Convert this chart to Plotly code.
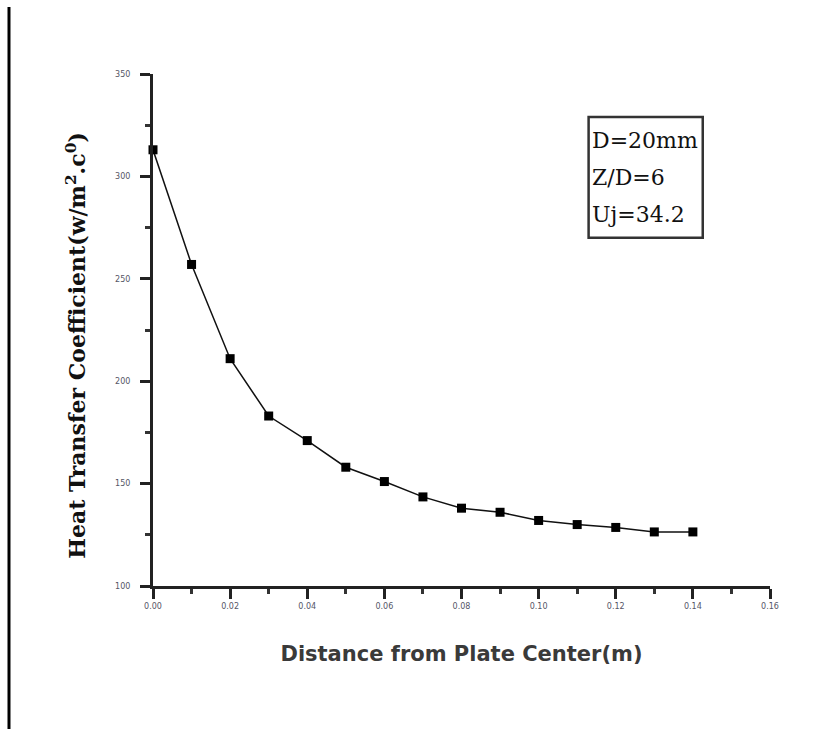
import plotly.graph_objects as go

# Radial distance from the plate centre (m) and local heat transfer coefficient
distance = [0.00, 0.01, 0.02, 0.03, 0.04, 0.05, 0.06, 0.07,
            0.08, 0.09, 0.10, 0.11, 0.12, 0.13, 0.14]
htc = [313, 257, 211, 183, 171, 158, 151, 143.5,
       138, 136, 132, 130, 128.6, 126.4, 126.4]

x_ticks = [0.00, 0.02, 0.04, 0.06, 0.08, 0.10, 0.12, 0.14, 0.16]
x_tick_text = ["0.00", "0.02", "0.04", "0.06", "0.08", "0.10", "0.12", "0.14", "0.16"]
y_ticks = [100, 150, 200, 250, 300, 350]
y_tick_text = ["100", "150", "200", "250", "300", "350"]

case_lines = ["D=20mm", "Z/D=6", "Uj=34.2"]

fig = go.Figure()
fig.add_trace(go.Scatter(
    x=distance, y=htc, mode="lines+markers",
    line=dict(color="#111111", width=1.5),
    marker=dict(symbol="square", size=9, color="#000000"),
    showlegend=False, cliponaxis=False,
))

axis_common = dict(
    showgrid=False, zeroline=False, showline=True,
    linecolor="#222222", linewidth=3, ticks="outside",
    tickcolor="#222222", tickwidth=3, ticklen=10,
    tickfont=dict(family="DejaVu Sans", size=8, color="#556"),
    minor=dict(ticks="outside", ticklen=5, tickwidth=3, tickcolor="#333333"),
)

fig.update_xaxes(
    range=[0, 0.16], tickvals=x_ticks, ticktext=x_tick_text,
    title=dict(text="Distance from Plate Center(m)",
               font=dict(family="DejaVu Sans", size=21, color="#3a3a3a",
                         weight="bold"),
               standoff=37),
    **axis_common,
)
fig.update_xaxes(minor_dtick=0.01)
fig.update_yaxes(
    range=[100, 350], tickvals=y_ticks, ticktext=y_tick_text,
    ticklabelstandoff=8,
    **axis_common,
)
fig.update_yaxes(minor_dtick=25)

# Rotated y-axis title
fig.add_annotation(
    text="Heat Transfer Coefficient(w/m<sup>2</sup>.c<sup>0</sup>)",
    xref="paper", yref="paper", x=-0.124, y=0.47, textangle=-90,
    showarrow=False, xanchor="center", yanchor="middle",
    font=dict(family="DejaVu Serif", size=22, color="#111111", weight="bold"),
)

# Case parameter box
fig.add_shape(type="rect", xref="paper", yref="paper",
              x0=0.706, x1=0.891, y0=0.680, y1=0.916,
              line=dict(color="#333333", width=2.5), fillcolor="white")
for i, txt in enumerate(case_lines):
    fig.add_annotation(
        text=txt, xref="paper", yref="paper",
        x=0.708, y=0.871 - i * 0.073, xanchor="left", yanchor="middle",
        showarrow=False,
        font=dict(family="DejaVu Serif", size=22, color="#111111"),
    )

# Vertical rule at the left edge of the page
fig.add_shape(type="line", xref="paper", yref="paper",
              x0=-0.2334, x1=-0.2334, y0=-0.28, y1=1.131,
              line=dict(color="#000000", width=3))

fig.update_layout(
    width=828, height=729,
    margin=dict(l=153, r=58, t=74, b=143),
    paper_bgcolor="white", plot_bgcolor="white",
)

fig.write_html("out.html")
